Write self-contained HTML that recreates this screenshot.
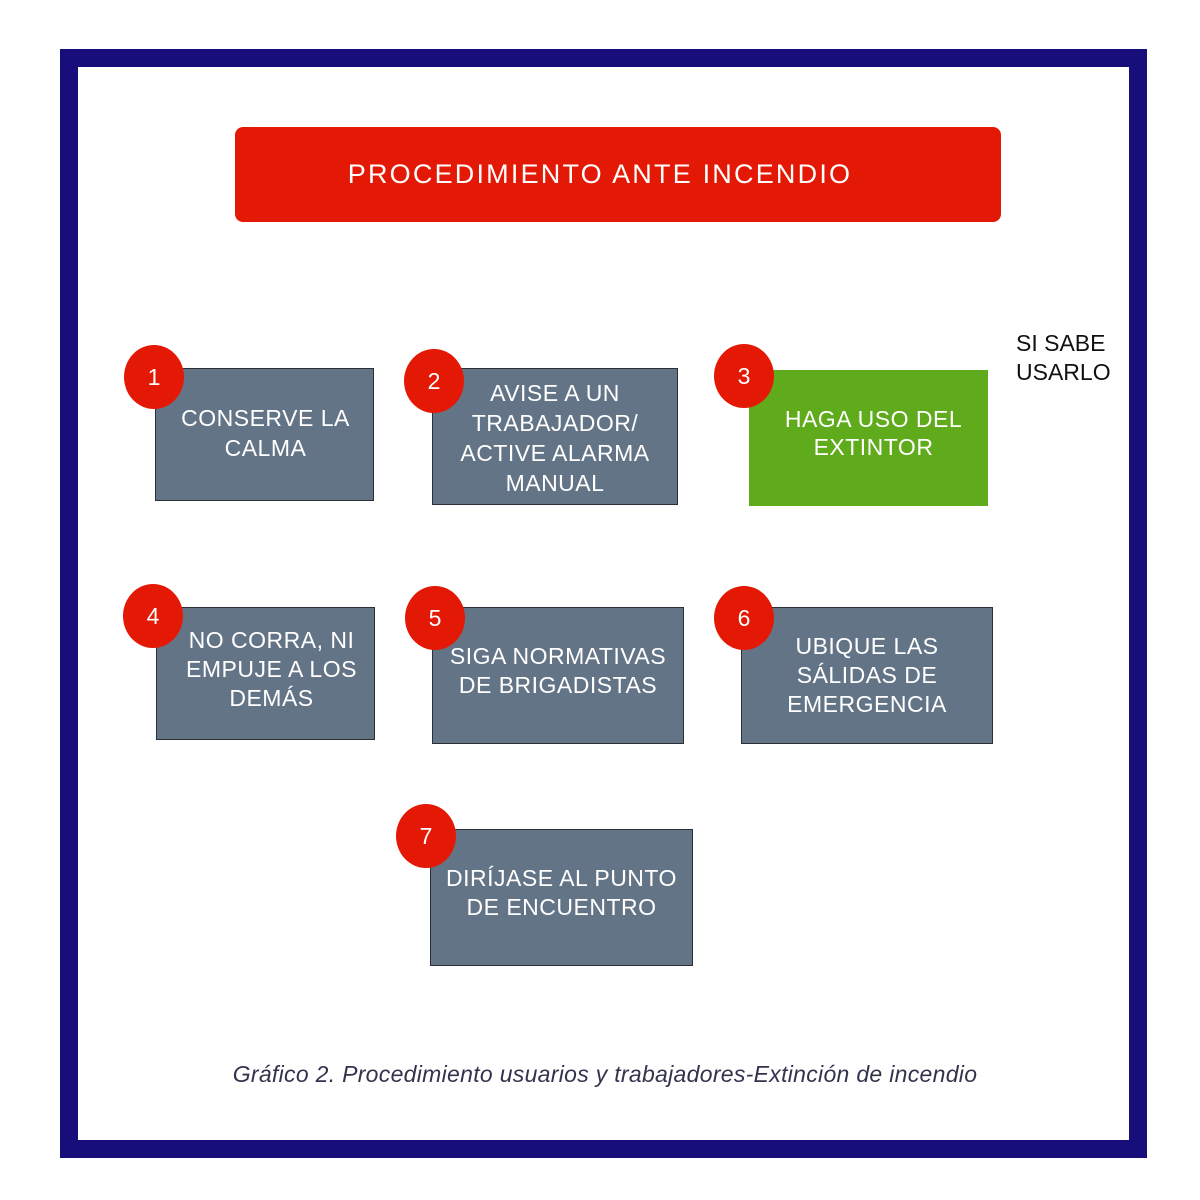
<!DOCTYPE html>
<html><head><meta charset="utf-8"><style>
body{margin:0;width:1200px;height:1200px;background:#fff;position:relative;font-family:"Liberation Sans",sans-serif;overflow:hidden}
.frame{position:absolute;left:60px;top:49px;width:1051px;height:1073px;border:18px solid #170d7b;background:#fff}
.title{position:absolute;left:235px;top:127px;width:766px;height:95px;background:#e41905;border-radius:8px;color:#fff;font-size:27px;display:flex;align-items:center;justify-content:center;letter-spacing:2.2px;box-sizing:border-box;padding-right:36px}
.b{position:absolute;background:#647487;border:1.5px solid #2c2f38;box-sizing:border-box;color:#fff;font-size:23px;line-height:30px;text-align:center;display:flex;align-items:center;justify-content:center;letter-spacing:0.5px}
.c{position:absolute;width:60px;height:64px;border-radius:50%;background:#e41905;color:#fff;font-size:23px;display:flex;align-items:center;justify-content:center}
.t{position:absolute;font-size:23px;line-height:29px;color:#111}
.cap{position:absolute;left:0;width:1210px;top:1061px;text-align:center;font-style:italic;font-size:23px;letter-spacing:0.3px;color:#33334d}
</style></head><body>
<div class="frame"></div>
<div class="title">PROCEDIMIENTO ANTE INCENDIO</div>

<div class="b" style="left:155px;top:368px;width:219px;height:133px;padding-left:2px;padding-bottom:4px">CONSERVE LA<br>CALMA</div>
<div class="c" style="left:124px;top:345px">1</div>

<div class="b" style="left:432px;top:368px;width:246px;height:137px;padding-top:2px">AVISE A UN<br>TRABAJADOR/<br>ACTIVE ALARMA<br>MANUAL</div>
<div class="c" style="left:404px;top:349px">2</div>

<div class="b" style="left:749px;top:370px;width:239px;height:136px;background:#5fab1c;border:none;padding-bottom:10px;padding-left:10px;line-height:28px">HAGA USO DEL<br>EXTINTOR</div>
<div class="c" style="left:714px;top:344px">3</div>
<div class="t" style="left:1016px;top:329px">SI SABE<br>USARLO</div>

<div class="b" style="left:156px;top:607px;width:219px;height:133px;padding-left:12px;padding-bottom:8px;line-height:29px">NO CORRA, NI<br>EMPUJE A LOS<br>DEMÁS</div>
<div class="c" style="left:123px;top:584px">4</div>

<div class="b" style="left:432px;top:607px;width:252px;height:137px;padding-bottom:10px;line-height:29px">SIGA NORMATIVAS<br>DE BRIGADISTAS</div>
<div class="c" style="left:405px;top:586px">5</div>

<div class="b" style="left:741px;top:607px;width:252px;height:137px;line-height:29px">UBIQUE LAS<br>SÁLIDAS DE<br>EMERGENCIA</div>
<div class="c" style="left:714px;top:586px">6</div>

<div class="b" style="left:430px;top:829px;width:263px;height:137px;padding-bottom:10px;line-height:29px">DIRÍJASE AL PUNTO<br>DE ENCUENTRO</div>
<div class="c" style="left:396px;top:804px">7</div>

<div class="cap">Gráfico 2. Procedimiento usuarios y trabajadores-Extinción de incendio</div>
</body></html>
